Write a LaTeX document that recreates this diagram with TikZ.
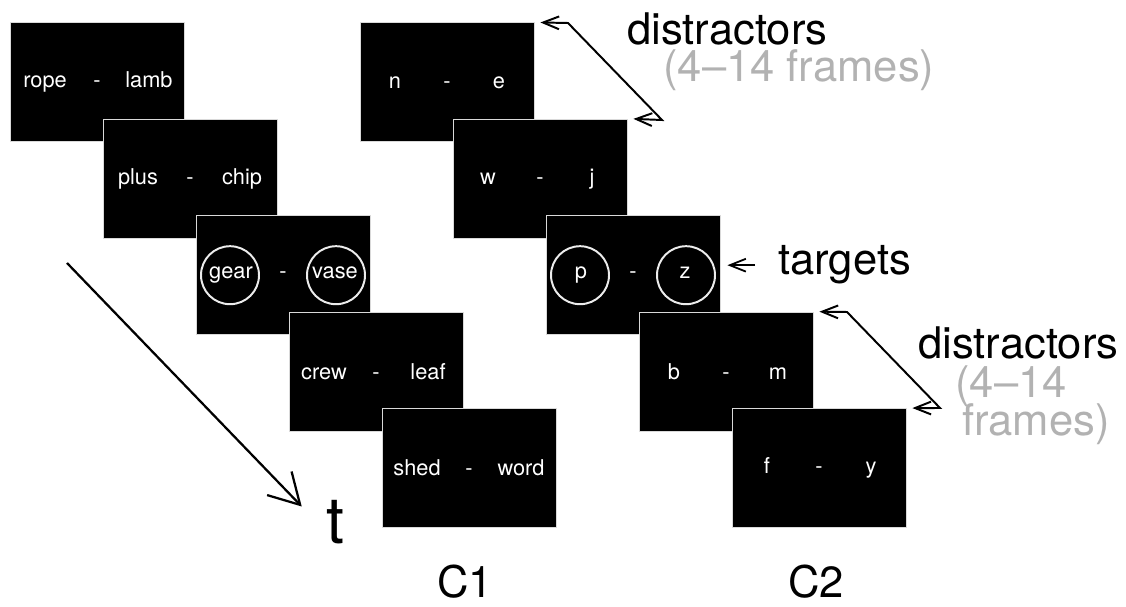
\documentclass[tikz,border=0pt]{standalone}
\usepackage{fontspec}
\setmainfont{TeX Gyre Heros}
\usepackage{tikz}
\usetikzlibrary{arrows.meta}

\newcommand\wordpair[2]{\makebox[2.6cm]{\makebox[0pt]{#1}\hfill-\hfill\makebox[0pt]{#2}}}

\begin{document}
\begin{tikzpicture}[
  screen/.style={fill=black, draw=gray!30, line width=0.6pt, minimum width=4.35cm,
    minimum height=2.975cm, inner sep=0pt, text=white, font=\fontsize{15.5}{18}\selectfont},
  ring/.style={draw=gray!15, line width=1.4pt},
  lbl/.style={inner sep=0pt, font=\fontsize{31}{36}\selectfont},
  note/.style={lbl, text=gray!60},
  bracket/.style={line width=1.4pt, {Straight Barb[length=4mm,width=3.2mm]}-{Straight Barb[length=4mm,width=3.2mm]}},
  pointer/.style={line width=1.3pt, -{Straight Barb[length=4mm,width=3.2mm]}}
]
\useasboundingbox (0,0) rectangle (28.15,15.15);

% first sequence: word pairs
\node[screen] (a1) at (2.425,13.09) {\wordpair{rope}{lamb}};
\node[screen] (a2) at (4.75,10.68) {\wordpair{plus}{chip}};
\node[screen] (a3) at (7.075,8.27) {\wordpair{gear}{vase}};
\draw[ring] ([xshift=-1.325cm]a3.center) circle (0.725cm);
\draw[ring] ([xshift=1.325cm]a3.center) circle (0.725cm);
\node[screen] (a4) at (9.4,5.86) {\wordpair{crew}{leaf}};
\node[screen] (a5) at (11.725,3.45) {\wordpair{shed}{word}};

% second sequence: letter pairs
\node[screen] (b1) at (11.175,13.09) {\wordpair{n}{e}};
\node[screen] (b2) at (13.5,10.68) {\wordpair{w}{j}};
\node[screen] (b3) at (15.825,8.27) {\wordpair{p}{z}};
\draw[ring] ([xshift=-1.325cm]b3.center) circle (0.725cm);
\draw[ring] ([xshift=1.325cm]b3.center) circle (0.725cm);
\node[screen] (b4) at (18.15,5.86) {\wordpair{b}{m}};
\node[screen] (b5) at (20.475,3.45) {\wordpair{f}{y}};

% time axis
\coordinate (tstart) at (1.675,8.575);
\node[inner sep=0pt, anchor=base, font=\fontsize{46}{50}\selectfont] (t) at (8.375,1.575) {t};
\draw[line width=1.6pt, -{Straight Barb[length=7.5mm,width=8.5mm]}] (tstart) -- ([xshift=-0.6cm,yshift=-0.175cm]t.north west);

\node[lbl, anchor=base] (c1) at (11.625,0.22) {C1};
\node[lbl, anchor=base] (c2) at (20.4,0.22) {C2};

% labels on the right
\node[lbl, anchor=base west] (dis1) at (15.675,14.025) {distractors};
\node[note, anchor=base west] (fr1) at (16.575,13.1) {(4--14 frames)};
\coordinate (d1a) at (14.2,14.575);
\coordinate (d1b) at (16.55,12.15);
\draw[bracket] ([xshift=1.5mm]b1.north east) -- (d1a) -- (d1b) -- ([xshift=1.5mm]b2.north east);

\node[lbl, anchor=base west] (tg) at (19.45,8.275) {targets};
\draw[pointer] ([xshift=-0.575cm]tg.west) -- ([xshift=0.175cm]tg.west -| b3.east);

\node[lbl, anchor=base west] (dis2) at (22.95,6.2) {distractors};
\node[note, anchor=base west] (fr2a) at (23.875,5.225) {(4--14};
\node[note, anchor=base west] (fr2b) at (24.05,4.275) {frames)};
\coordinate (d2a) at (21.175,7.35);
\coordinate (d2b) at (23.5,4.95);
\draw[bracket] ([xshift=1.5mm]b4.north east) -- (d2a) -- (d2b) -- ([xshift=1.5mm]b5.north east);
\end{tikzpicture}
\end{document}
